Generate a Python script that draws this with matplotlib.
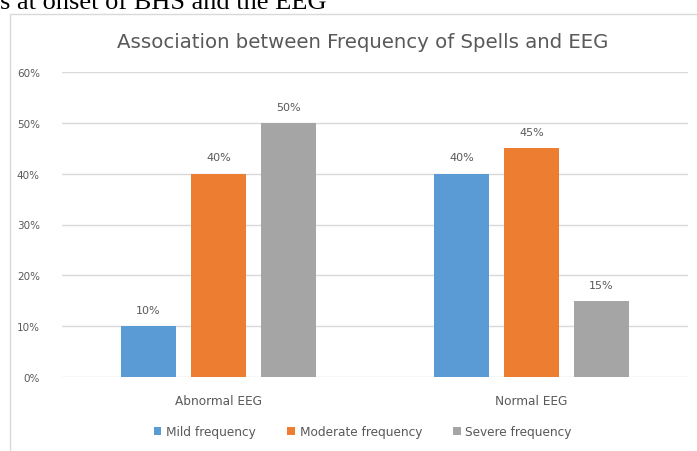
import numpy as np
import matplotlib.pyplot as plt
from matplotlib.patches import Rectangle

categories = ["Abnormal EEG", "Normal EEG"]
series = ["Mild frequency", "Moderate frequency", "Severe frequency"]
mild = [10, 40]
moderate = [40, 45]
severe = [50, 15]
colors = ["#5B9BD5", "#ED7D31", "#A5A5A5"]

W, H = 697, 452
fig = plt.figure(figsize=(W / 100, H / 100), dpi=100)

# cropped caption above the chart (cut at the top edge, as in the source)
fig.text(0, 1 - 9 / H, "s at onset of BHS and the EEG", family="Liberation Serif",
         fontsize=19, color="black", va="baseline", ha="left")

# chart frame
fig.patches.append(Rectangle((10 / W, -0.1), 1.0, 1 - 15 / H + 0.1, transform=fig.transFigure,
                             fill=False, edgecolor="#D9D9D9", linewidth=1))

ax = fig.add_axes([62 / W, 1 - 378 / H, (688 - 62) / W, (378 - 73) / H])
x = np.arange(len(categories))
width = 55 / 313
step = 70 / 313
for i, (vals, name) in enumerate(zip([mild, moderate, severe], series)):
    bars = ax.bar(x + (i - 1) * step, vals, width, color=colors[i], label=name, zorder=3)
    for b, v in zip(bars, vals):
        ax.text(b.get_x() + b.get_width() / 2, v + 2.2, f"{v}%", ha="center", va="bottom",
                fontsize=8, color="#595959")

ax.set_xlim(-0.5, 1.5)
ax.set_ylim(0, 60)
ax.set_yticks(range(0, 61, 10))
ax.set_yticklabels([f"{t}%" for t in range(0, 61, 10)])
ax.set_xticks(x)
ax.set_xticklabels(categories)
ax.grid(axis="y", color="#D9D9D9", linewidth=1, zorder=0)
for s in ax.spines.values():
    s.set_visible(False)
ax.tick_params(length=0, colors="#595959", labelsize=7.5)
ax.tick_params(axis="x", pad=12, labelsize=8.7)
ax.tick_params(axis="y", pad=16)

fig.text(363 / W, 1 - 42 / H, "Association between Frequency of Spells and EEG",
         ha="center", va="center", fontsize=14.2, color="#595959")

fig.legend(loc="center", bbox_to_anchor=(363 / W, 1 - 433 / H), ncol=3, frameon=False,
           fontsize=8.7, labelcolor="#595959", handlelength=0.6, handleheight=0.6,
           handletextpad=0.4, columnspacing=2.6)

fig.savefig("out.png", dpi=100)
